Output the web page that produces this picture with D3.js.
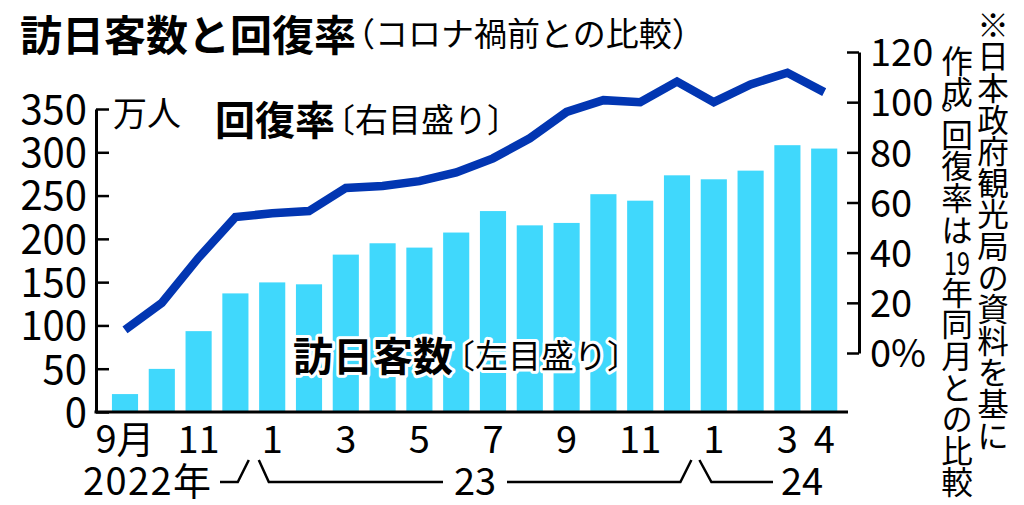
<!DOCTYPE html>
<html><head><meta charset="utf-8">
<script src="https://cdn.jsdelivr.net/npm/d3@7"></script>
<style>
html,body{margin:0;padding:0;background:#fff;}
svg{display:block;font-family:"Noto Sans CJK JP","Noto Sans",sans-serif;}
.vt{writing-mode:vertical-rl;text-orientation:upright;}
</style></head>
<body>
<svg id="c" width="1024" height="505"></svg>
<script>
// ---- data ----
const months = ["2022-09","2022-10","2022-11","2022-12","2023-01","2023-02","2023-03","2023-04","2023-05","2023-06","2023-07","2023-08","2023-09","2023-10","2023-11","2023-12","2024-01","2024-02","2024-03","2024-04"];
const monthLabels = ["9月","","11","","1","","3","","5","","7","","9","","11","","1","","3","4"];
const visitors = [20.7,49.8,93.4,137.0,149.7,147.5,181.8,194.9,189.9,207.3,232.1,215.6,218.4,251.6,244.1,273.4,268.8,278.8,308.2,304.3]; // 万人
const recovery = [9.2,20.0,38.0,54.2,55.7,56.6,65.8,66.6,68.5,72.0,77.6,85.6,96.1,100.8,100.0,108.2,100.0,107.1,111.7,104.0]; // %
const leftTicks = [0,50,100,150,200,250,300,350];
const rightTicks = [0,20,40,60,80,100,120];
const yearGroups = [{label:"2022年", from:0, to:3},{label:"23", from:4, to:15},{label:"24", from:16, to:19}];
const title = "訪日客数と回復率";
const subtitle = "（コロナ禍前との比較）";
const lineLabel = ["回復率","〔右目盛り〕"];
const barLabel = ["訪日客数","〔左目盛り〕"];
const unitLabel = "万人";
const noteRight = "※日本政府観光局の資料を基に";
const noteLeft = ["作成","。","回復率は","19","年同月との比較"];

// ---- layout ----
const svg = d3.select("#c");
const font = '"Noto Sans CJK JP","Noto Sans",sans-serif';
const x = d3.scaleBand().domain(months).range([106.6, 842.6]).paddingInner(0.29).paddingOuter(0.145);
const yL = d3.scaleLinear().domain([0,350]).range([412,109]);
const yR = d3.scaleLinear().domain([0,120]).range([353,52]);
const cx = m => x(m) + x.bandwidth()/2;

// bars
svg.append("g").selectAll("rect").data(months).join("rect")
  .attr("x", d => x(d)).attr("width", x.bandwidth())
  .attr("y", (d,i) => yL(visitors[i])).attr("height", (d,i) => yL(0) - yL(visitors[i]))
  .attr("fill", "#40d8fc");

// line
const line = d3.line().x((d,i) => cx(months[i])).y(d => yR(d));
svg.append("path").datum(recovery).attr("d", line)
  .attr("fill","none").attr("stroke","#0236b2").attr("stroke-width",8.5)
  .attr("stroke-linejoin","miter").attr("stroke-linecap","butt");

// left axis
const gL = svg.append("g").attr("transform","translate(96,0)")
  .call(d3.axisLeft(yL).tickValues(leftTicks).tickSizeInner(-13).tickSizeOuter(0).tickPadding(9));
gL.select(".domain").attr("stroke","#000").attr("stroke-width",3);
gL.selectAll(".tick line").attr("stroke","#000").attr("stroke-width",2.5);
gL.selectAll(".tick text").attr("font-family",font).attr("font-size",40).attr("fill","#000").attr("dy","0.36em");

// right axis
const gR = svg.append("g").attr("transform","translate(859,0)")
  .call(d3.axisRight(yR).tickValues(rightTicks).tickSizeInner(-12).tickSizeOuter(0).tickPadding(11)
    .tickFormat(d => d === 0 ? "0%" : d));
gR.select(".domain").attr("stroke","#000").attr("stroke-width",3);
gR.selectAll(".tick line").attr("stroke","#000").attr("stroke-width",2.5);
gR.selectAll(".tick text").attr("font-family",font).attr("font-size",38).attr("fill","#000").attr("dy","0.36em");

// bottom axis line
svg.append("line").attr("x1",94.5).attr("x2",848).attr("y1",yL(0)).attr("y2",yL(0))
  .attr("stroke","#000").attr("stroke-width",3);

// month labels
svg.append("g").selectAll("text").data(monthLabels).join("text")
  .attr("x",(d,i)=>cx(months[i])).attr("y",436).attr("text-anchor","middle")
  .attr("dominant-baseline","central").attr("font-size",38).text(d=>d);

// year row
const yrY = 478, brY = 482, yfs = 38;
const yg = svg.append("g");
yg.append("text").attr("x",83).attr("y",yrY).attr("dominant-baseline","central").attr("font-size",yfs).attr("textLength",128).text(yearGroups[0].label);
yg.append("text").attr("x",475).attr("y",yrY).attr("text-anchor","middle").attr("dominant-baseline","central").attr("font-size",yfs).text(yearGroups[1].label);
yg.append("text").attr("x",802).attr("y",yrY).attr("text-anchor","middle").attr("dominant-baseline","central").attr("font-size",yfs).text(yearGroups[2].label);
const b1 = (cx(months[yearGroups[0].to]) + cx(months[yearGroups[1].from]))/2;
const b2 = (cx(months[yearGroups[1].to]) + cx(months[yearGroups[2].from]))/2;
const bp = d3.path();
bp.moveTo(220,brY); bp.lineTo(b1-16,brY); bp.lineTo(b1-5,brY-22);
bp.moveTo(b1+5,brY-22); bp.lineTo(b1+15,brY);
bp.lineTo(443,brY);
bp.moveTo(507,brY); bp.lineTo(b2-15,brY); bp.lineTo(b2-4,brY-22);
bp.moveTo(b2+4,brY-22); bp.lineTo(b2+16,brY); bp.lineTo(773,brY);
yg.append("path").attr("d",bp.toString()).attr("fill","none").attr("stroke","#000").attr("stroke-width",2.5);

// title
const t = svg.append("text").attr("x",20).attr("y",32).attr("dominant-baseline","central");
t.append("tspan").attr("font-size",42).attr("font-weight","bold").text(title);
t.append("tspan").attr("font-size",33).attr("dx",-14).text(subtitle);

// unit label
svg.append("text").attr("x",113).attr("y",111).attr("dominant-baseline","central").attr("font-size",34).text(unitLabel);

// line label
const ll = svg.append("text").attr("x",215).attr("y",118).attr("dominant-baseline","central");
ll.append("tspan").attr("font-size",40).attr("font-weight","bold").text(lineLabel[0]);
ll.append("tspan").attr("font-size",33).attr("dx",-13).text(lineLabel[1]);

// bar label with white halo
const bl = svg.append("text").attr("x",293).attr("y",354).attr("dominant-baseline","central")
  .attr("stroke","#fff").attr("stroke-width",6).attr("stroke-linejoin","round").attr("paint-order","stroke").attr("fill","#000");
bl.append("tspan").attr("font-size",40).attr("font-weight","bold").text(barLabel[0]);
bl.append("tspan").attr("font-size",33).attr("dx",-11).text(barLabel[1]);

// vertical note
const cell = 31.6;
svg.append("text").attr("class","vt").attr("x",993).attr("y",9).attr("font-size",cell).text(noteRight);
// left column
svg.append("text").attr("class","vt").attr("x",957).attr("y",45).attr("font-size",cell).text(noteLeft[0]);
svg.append("text").attr("x",941).attr("y",109).attr("font-size",30).text(noteLeft[1]);
const lc0 = 119;
svg.append("text").attr("class","vt").attr("x",957).attr("y",lc0).attr("font-size",cell).text(noteLeft[2]);
svg.append("text").attr("x",957).attr("y",lc0 + 4*cell + cell/2).attr("text-anchor","middle")
  .attr("dominant-baseline","central").attr("font-size",32).attr("textLength",26).attr("lengthAdjust","spacingAndGlyphs").text(noteLeft[3]);
svg.append("text").attr("class","vt").attr("x",957).attr("y",lc0 + 5*cell).attr("font-size",cell).text(noteLeft[4]);
</script>
</body></html>
